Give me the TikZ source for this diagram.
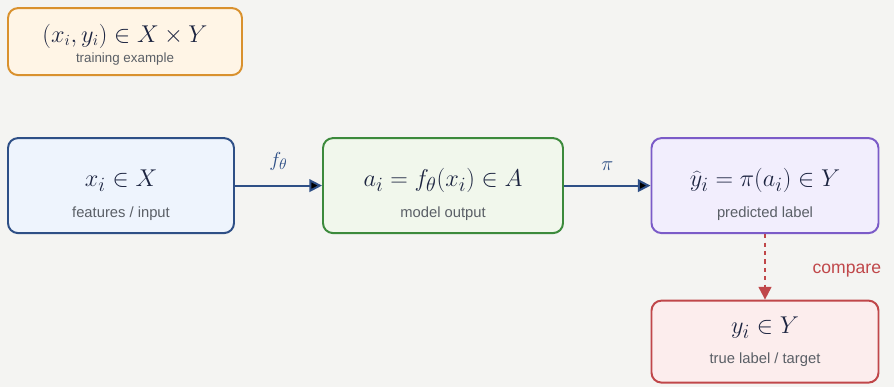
\documentclass[tikz,border=0pt]{standalone}
\usepackage{fontspec}
\setsansfont{Liberation Sans}
\usepackage{xcolor}
\usetikzlibrary{positioning, arrows.meta}

\definecolor{bgpaper}{HTML}{F4F4F2}
\definecolor{inkmath}{HTML}{1C2440}
\definecolor{capgrey}{HTML}{5A5F66}
\definecolor{orangeline}{HTML}{D9912E}
\definecolor{orangefill}{HTML}{FFF5E6}
\definecolor{blueline}{HTML}{2E4F86}
\definecolor{bluefill}{HTML}{EEF4FD}
\definecolor{greenline}{HTML}{3C8A3C}
\definecolor{greenfill}{HTML}{F1F7EC}
\definecolor{purpleline}{HTML}{7B5BC8}
\definecolor{purplefill}{HTML}{F2EEFD}
\definecolor{redline}{HTML}{C0474A}
\definecolor{redfill}{HTML}{FCEDED}

\tikzset{
  box/.style={draw, line width=1.4pt, rounded corners=0.25cm, align=center,
    minimum height=2.375cm, inner sep=0pt, text=inkmath,
    font=\fontsize{19}{22}\selectfont},
  flow/.style={-{Triangle[length=9pt,width=9pt]}, line width=1.4pt, draw=blueline},
  arrowlabel/.style={text=blueline, font=\fontsize{15}{17}\selectfont, yshift=7pt},
}

\newcommand{\captext}[1]{{\sffamily\fontsize{10.5}{12}\selectfont\color{capgrey}#1}}
\newcommand{\topstrut}{\rule{0pt}{25pt}}

\begin{document}
\begin{tikzpicture}[node distance=8.05cm, on grid, auto]
   \fill[bgpaper] (0,0) rectangle (22.35,-9.675);
   \useasboundingbox (0,0) rectangle (22.35,-9.675);

   % training example
   \node[box, draw=orangeline, fill=orangefill, minimum width=5.85cm,
     minimum height=1.675cm, font=\fontsize{16}{18}\selectfont] (ex) at (3.125,-1.04)
     {\rule{0pt}{17pt}$(x_i, y_i)\in X\times Y$\\[-4pt]
      {\sffamily\fontsize{9.5}{10}\selectfont\color{capgrey}training example}};

   % main row
   \node[box, draw=blueline, fill=bluefill, minimum width=5.65cm] (x) at (3.025,-4.64)
     {\topstrut$x_i\in X$\\[0pt]\captext{features / input}};
   \node[box, draw=greenline, fill=greenfill, minimum width=6cm] (a) [right=of x]
     {\topstrut$a_i=f_\theta(x_i)\in A$\\[0pt]\captext{model output}};
   \node[box, draw=purpleline, fill=purplefill, minimum width=5.675cm] (yhat) [right=of a]
     {\topstrut$\widehat{y}_i=\pi(a_i)\in Y$\\[0pt]\captext{predicted label}};
   \node[box, draw=redline, fill=redfill, minimum width=5.675cm,
     minimum height=2.05cm] (y) [below=3.9cm of yhat]
     {$y_i\in Y$\\[-1pt]\captext{true label / target}};

   \path[flow]
    (x) edge node[arrowlabel] {$f_\theta$} (a)
    (a) edge node[arrowlabel] {$\pi$} (yhat);

   \draw[-{Triangle[length=9pt,width=9pt]}, line width=1.4pt, draw=redline, dashed]
    (yhat) -- node[pos=0.55, anchor=west, xshift=1.05cm, text=redline,
      font=\sffamily\fontsize{12.5}{14}\selectfont] (cmp) {compare} (y);
\end{tikzpicture}
\end{document}
